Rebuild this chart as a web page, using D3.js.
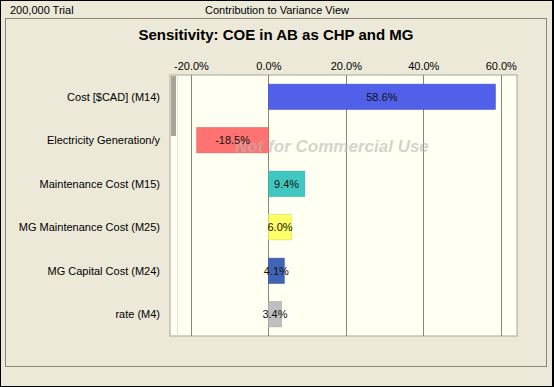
<!DOCTYPE html>
<html>
<head>
<meta charset="utf-8">
<script src="https://cdn.jsdelivr.net/npm/d3@7"></script>
<style>
  body { margin: 0; background: #000; }
  svg { display: block; font-family: "Liberation Sans", Arial, sans-serif; }
</style>
</head>
<body>
<svg id="chart" width="554" height="387"></svg>
<script>
// data
const labels = ["Cost [$CAD] (M14)", "Electricity Generation/y", "Maintenance Cost (M15)",
                "MG Maintenance Cost (M25)", "MG Capital Cost (M24)", "rate (M4)"]
const values = [58.6, -18.5, 9.4, 6.0, 4.1, 3.4]
const colors = ["#5060e8", "#ff7272", "#40c8c0", "#ffff66", "#4064b8", "#c0c0c0"]
const ticks = [-20, 0, 20, 40, 60]

const W = 554, H = 387
const svg = d3.select("#chart")

// window background + border
svg.append("rect").attr("x", 1).attr("y", 1).attr("width", W - 3).attr("height", H - 2)
    .attr("fill", "#ece9d8")

// header texts
svg.append("text").attr("x", 10).attr("y", 14).attr("font-size", 11).attr("fill", "#000")
    .text("200,000 Trial")
svg.append("text").attr("x", 277).attr("y", 14).attr("font-size", 11).attr("text-anchor", "middle")
    .text("Contribution to Variance View")

// inner panel
svg.append("rect").attr("x", 5.5).attr("y", 18.5).attr("width", 541).attr("height", 348)
    .attr("fill", "none").attr("stroke", "#8a877a")

svg.append("text").attr("x", 276).attr("y", 40).attr("font-size", 15).attr("font-weight", "bold")
    .attr("text-anchor", "middle").text("Sensitivity: COE in AB as CHP and MG")

// plot area
const pLeft = 170, pRight = 517, pTop = 75, pBottom = 336

const x = d3.scaleLinear().domain([-23.6, 64.2]).range([177, pRight])
const y = d3.scaleBand().domain(labels).range([pTop, pBottom]).paddingInner(0.42).paddingOuter(0.21)

svg.append("rect").attr("x", pLeft).attr("y", pTop).attr("width", pRight - pLeft).attr("height", pBottom - pTop)
    .attr("fill", "#fffff2").attr("stroke", "#a8a596")
// scroll thumb thing
svg.append("rect").attr("x", 171).attr("y", 76).attr("width", 5).attr("height", 60).attr("fill", "#a8a596")
svg.append("line").attr("x1", 177.5).attr("x2", 177.5).attr("y1", pTop).attr("y2", pBottom)
    .attr("stroke", "#e2e0d4")

// grid + top axis
const gx = svg.append("g").attr("transform", `translate(0,${pTop})`)
    .call(d3.axisTop(x).tickValues(ticks).tickSize(0).tickPadding(5).tickFormat(d => d.toFixed(1) + "%"))
gx.select(".domain").remove()
gx.selectAll("text").attr("font-size", 11).attr("fill", "#000").attr("font-family", "Liberation Sans, Arial")

svg.append("g").selectAll("line").data(ticks).join("line")
    .attr("x1", d => Math.round(x(d)) + 0.5).attr("x2", d => Math.round(x(d)) + 0.5)
    .attr("y1", pTop).attr("y2", pBottom).attr("stroke", "#8a877a")

// bars
const bars = labels.map((l, i) => ({label: l, value: values[i], color: colors[i]}))
svg.append("g").selectAll("rect").data(bars).join("rect")
    .attr("x", d => x(Math.min(0, d.value)))
    .attr("y", d => y(d.label))
    .attr("width", d => Math.abs(x(d.value) - x(0)))
    .attr("height", y.bandwidth())
    .attr("fill", d => d.color)
    .attr("stroke", d => d3.color(d.color).darker(0.4)).attr("stroke-width", 0.6)

// watermark, drawn over the bars
svg.append("text").attr("x", 332).attr("y", 152).attr("text-anchor", "middle")
    .attr("font-size", 17).attr("font-weight", "bold").attr("font-style", "italic")
    .attr("fill", "#b8b8b0").attr("fill-opacity", 0.6).text("Not for Commercial Use")

svg.append("g").selectAll("text").data(bars).join("text")
    .attr("x", d => (x(d.value) + x(0)) / 2)
    .attr("y", d => y(d.label) + y.bandwidth() / 2 + 4)
    .attr("text-anchor", "middle").attr("font-size", 11).attr("fill", "#111")
    .text(d => d.value.toFixed(1) + "%")

// category labels
svg.append("g").selectAll("text").data(bars).join("text")
    .attr("x", 160).attr("y", d => y(d.label) + y.bandwidth() / 2 + 4)
    .attr("text-anchor", "end").attr("font-size", 11).attr("fill", "#000")
    .text(d => d.label)
</script>
</body>
</html>
